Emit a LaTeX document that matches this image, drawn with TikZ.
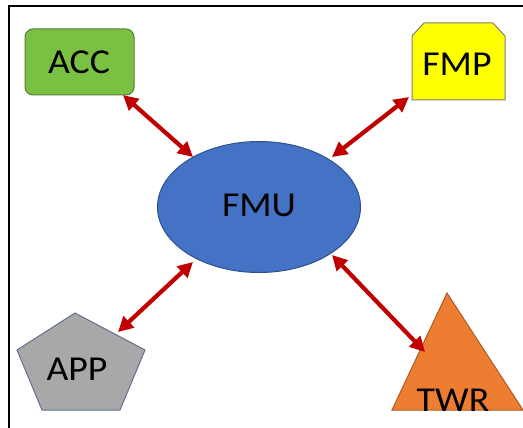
\documentclass[tikz,border=0pt]{standalone}
\usepackage{fontspec}
\setmainfont{Carlito}
\usetikzlibrary{arrows.meta,shapes.geometric}
\definecolor{accfill}{RGB}{122,192,67}
\definecolor{accline}{RGB}{84,126,52}
\definecolor{fmpfill}{RGB}{255,255,0}
\definecolor{fmpline}{RGB}{127,127,127}
\definecolor{appfill}{RGB}{168,168,168}
\definecolor{appline}{RGB}{96,112,140}
\definecolor{twrfill}{RGB}{237,125,49}
\definecolor{twrline}{RGB}{174,90,33}
\definecolor{fmufill}{RGB}{68,114,196}
\definecolor{fmuline}{RGB}{47,82,143}
\definecolor{arrowred}{RGB}{192,0,0}
\tikzset{
  lbl/.style={inner sep=0pt, text=black, font=\fontsize{35}{40}\selectfont},
  link/.style={draw=arrowred, line width=4.2pt, {Triangle[length=15pt,width=15pt]}-{Triangle[length=15pt,width=15pt]}},
  shapeline/.style={line width=1pt}
}
\newcommand{\wtxt}[1]{\scalebox{1.08}[1]{#1}}
\begin{document}
\begin{tikzpicture}[x=1pt,y=-1pt]
\useasboundingbox (0,0) rectangle (523,428);
% frame
\draw[line width=2pt] (8.5,6.5) rectangle (530,440);
% ACC
\draw[shapeline, draw=accline, fill=accfill, rounded corners=8pt] (25,29) rectangle (134,95);
\node[lbl] (acc) at (79,62) {\wtxt{ACC}};
% FMP
\draw[shapeline, draw=fmpline, fill=fmpfill] (412,100) -- (412,36) -- (424,23) -- (493,23) -- (505,36) -- (505,100) -- cycle;
\node[lbl] (fmp) at (457,64) {\wtxt{FMP}};
% APP
\draw[shapeline, draw=appline, fill=appfill] (75,313) -- (145,350) -- (120,410) -- (42,410) -- (17,350) -- cycle;
\node[lbl] (app) at (77,369) {\wtxt{APP}};
% TWR
\draw[shapeline, draw=twrline, fill=twrfill] (447,293) -- (523,410) -- (392,410) -- cycle;
\node[lbl] (twr) at (453,400) {\wtxt{TWR}};
% FMU
\node[ellipse, draw=fmuline, fill=fmufill, shapeline, minimum width=203pt, minimum height=131pt, inner sep=0pt] (fmuell) at (259,207) {};
\node[lbl] (fmu) at (259,205) {\wtxt{FMU}};
% arrow end points
\coordinate (accA) at (123,95);
\coordinate (fmpA) at (409,97);
\coordinate (appA) at (118,332);
\coordinate (twrA) at (425,352);
\coordinate (fmuNW) at (193,157);
\coordinate (fmuNE) at (332,157);
\coordinate (fmuSW) at (193,262);
\coordinate (fmuSE) at (332,255);
\draw[link] (accA) -- (fmuNW);
\draw[link] (fmpA) -- (fmuNE);
\draw[link] (appA) -- (fmuSW);
\draw[link] (twrA) -- (fmuSE);
\end{tikzpicture}
\end{document}
